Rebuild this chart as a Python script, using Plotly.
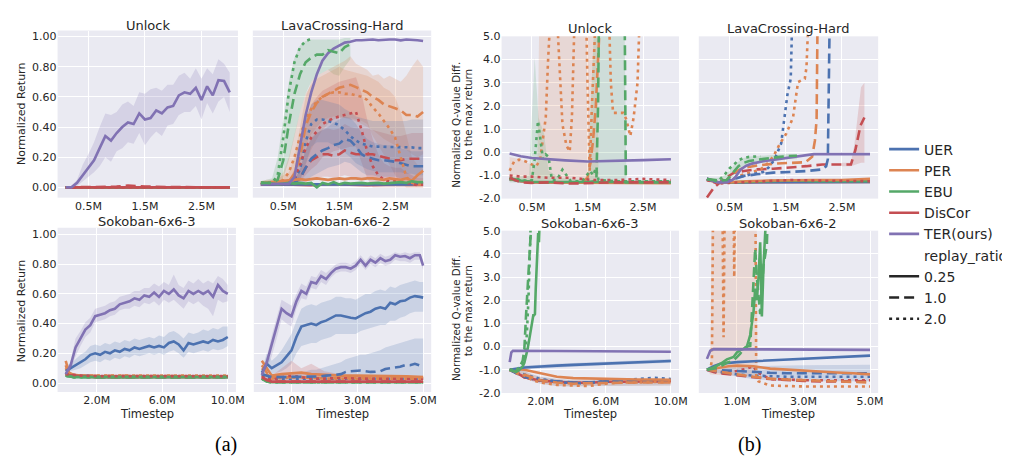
import plotly.graph_objects as go

# ---------------- colours / styles ----------------
COLORS = {"UER": "#4C72B0", "PER": "#DD8452", "EBU": "#55A868", "DisCor": "#C44E52", "TER": "#8172B3"}
RGBA = {"UER": (76, 114, 176), "PER": (221, 132, 82), "EBU": (85, 168, 104), "DisCor": (196, 78, 82), "TER": (129, 114, 179)}
DASH = {"0.25": "solid", "1.0": "10px,5px", "2.0": "3px,4px"}
methods = ["UER", "PER", "EBU", "DisCor", "TER(ours)"]
ratios = ["0.25", "1.0", "2.0"]

# ---------------- x grids (million timesteps) ----------------
x_3m = [0.1, 0.2, 0.3, 0.4, 0.5, 0.6, 0.7, 0.8, 0.9, 1.0, 1.1, 1.2, 1.3, 1.4, 1.5, 1.6, 1.7, 1.8, 1.9, 2.0,
        2.1, 2.2, 2.3, 2.4, 2.5, 2.6, 2.7, 2.8, 2.9, 3.0]
x_3m_coarse = [0.1, 0.5, 1.0, 1.2, 1.5, 2.0, 2.5, 3.0]
x_10m = [0.1, 0.4, 0.7, 1.0, 1.3, 1.6, 1.9, 2.2, 2.5, 2.8, 3.1, 3.4, 3.7, 4.0, 4.3, 4.6, 4.9, 5.2, 5.5, 5.8,
         6.1, 6.4, 6.7, 7.0, 7.3, 7.6, 7.9, 8.2, 8.5, 8.8, 9.1, 9.4, 9.7, 10.0]
x_10m_coarse = [0.1, 0.3, 0.6, 1.0, 2.0, 4.0, 6.0, 8.0, 10.0]
x_5m = [0.1, 0.25, 0.4, 0.55, 0.7, 0.85, 1.0, 1.15, 1.3, 1.45, 1.6, 1.75, 1.9, 2.05, 2.2, 2.35, 2.5, 2.65, 2.8, 2.95,
        3.1, 3.25, 3.4, 3.55, 3.7, 3.85, 4.0, 4.15, 4.3, 4.45, 4.6, 4.75, 4.9, 5.0]
x_5m_coarse = [0.1, 0.25, 0.4, 0.7, 1.0, 1.3, 1.6, 2.0, 2.5, 3.0, 3.5, 4.0, 4.5, 5.0]
xb_3m = [0.1, 0.3, 0.5, 0.8, 1.2, 1.6, 2.0, 2.5, 3.0]
xb_10m = [0.1, 0.5, 1.0, 1.5, 2.0, 3.0, 4.0, 5.0, 6.0, 7.0, 8.0, 9.0, 10.0]
xb_5m = [0.1, 0.3, 0.5, 0.75, 1.0, 1.5, 2.0, 2.5, 3.0, 3.5, 4.0, 4.5, 5.0]

# ---------------- (a) Unlock : normalized return ----------------
ua_ter = [0.0, 0.0, 0.03, 0.08, 0.13, 0.18, 0.26, 0.34, 0.31, 0.36, 0.40, 0.43, 0.42, 0.49, 0.45, 0.46, 0.51, 0.49, 0.53, 0.54,
          0.61, 0.63, 0.62, 0.66, 0.58, 0.67, 0.61, 0.71, 0.705, 0.63]
ua_ter_lo = [0.0, 0.0, 0.01, 0.04, 0.07, 0.10, 0.14, 0.20, 0.17, 0.24, 0.26, 0.30, 0.29, 0.36, 0.28, 0.33, 0.37, 0.34, 0.41, 0.42,
             0.48, 0.50, 0.50, 0.54, 0.45, 0.56, 0.49, 0.57, 0.60, 0.50]
ua_ter_hi = [0.0, 0.01, 0.05, 0.15, 0.22, 0.30, 0.40, 0.49, 0.48, 0.50, 0.55, 0.57, 0.54, 0.63, 0.62, 0.65, 0.66, 0.64, 0.68, 0.68,
             0.74, 0.76, 0.72, 0.79, 0.72, 0.79, 0.75, 0.85, 0.82, 0.76]
ua_flat = [0.0, 0.0, 0.0, 0.0, 0.0, 0.0, 0.0, 0.0]
ua_discor_dash = [0.0, 0.0, 0.005, 0.012, 0.006, 0.002, 0.0, 0.0]

# ---------------- (a) LavaCrossing-Hard ----------------
la_ter = [0.02, 0.02, 0.02, 0.02, 0.02, 0.025, 0.07, 0.27, 0.48, 0.63, 0.75, 0.84, 0.89, 0.92, 0.94, 0.96, 0.965, 0.975, 0.975, 0.98,
          0.98, 0.975, 0.98, 0.98, 0.98, 0.975, 0.98, 0.98, 0.975, 0.97]
la_ebu_dot = [0.03, 0.03, 0.03, 0.08, 0.33, 0.63, 0.83, 0.93, 0.97, 0.985]
la_ebu_dash = [0.03, 0.03, 0.03, 0.05, 0.18, 0.42, 0.62, 0.75, 0.83, 0.86, 0.88, 0.88, 0.91, 0.90, 0.89, 0.93, 0.95]
la_ebu_dash_lo = [0.02, 0.02, 0.02, 0.03, 0.06, 0.18, 0.35, 0.5, 0.62, 0.7, 0.74, 0.76, 0.78, 0.75, 0.74, 0.8, 0.85]
la_ebu_dash_hi = [0.04, 0.05, 0.06, 0.2, 0.45, 0.7, 0.86, 0.94, 0.97, 0.98, 0.98, 0.98, 0.98, 0.98, 0.98, 0.99, 0.99]
la_ebu_solid = [0.03, 0.03, 0.025, 0.02, 0.025, 0.03, 0.025, 0.03, 0.025, 0.03, 0.0, 0.03, 0.02, 0.035, 0.02, 0.03, 0.025, 0.03, 0.03, 0.025,
                0.03, 0.03, 0.025, 0.03, 0.03, 0.035, 0.03, 0.04, 0.035, 0.035]
la_per_dash = [0.03, 0.03, 0.03, 0.03, 0.035, 0.04, 0.09, 0.2, 0.41, 0.5, 0.56, 0.6, 0.62, 0.64, 0.66, 0.67, 0.68, 0.665, 0.65, 0.63,
               0.60, 0.58, 0.55, 0.54, 0.525, 0.51, 0.48, 0.48, 0.47, 0.5]
la_per_dash_lo = [0.02, 0.02, 0.02, 0.02, 0.02, 0.02, 0.03, 0.05, 0.15, 0.25, 0.32, 0.38, 0.42, 0.45, 0.46, 0.46, 0.45, 0.44, 0.42, 0.4,
                  0.38, 0.35, 0.32, 0.3, 0.28, 0.27, 0.25, 0.22, 0.2, 0.22]
la_per_dash_hi = [0.04, 0.05, 0.05, 0.06, 0.08, 0.1, 0.2, 0.4, 0.6, 0.7, 0.74, 0.76, 0.78, 0.8, 0.82, 0.84, 0.87, 0.82, 0.8, 0.78,
                  0.74, 0.75, 0.72, 0.74, 0.72, 0.7, 0.74, 0.8, 0.85, 0.8]
la_per_dot = [0.03, 0.03, 0.03, 0.03, 0.05, 0.1, 0.2, 0.34, 0.45, 0.52, 0.57, 0.6, 0.62, 0.63, 0.63, 0.62, 0.62, 0.61, 0.6, 0.58,
              0.53, 0.49, 0.44, 0.39, 0.33, 0.2, 0.07, 0.03, 0.02, 0.02]
la_per_dot_lo = [0.02, 0.02, 0.02, 0.02, 0.02, 0.03, 0.08, 0.18, 0.28, 0.35, 0.4, 0.44, 0.46, 0.47, 0.47, 0.46, 0.46, 0.45, 0.44, 0.42,
                 0.34, 0.28, 0.22, 0.15, 0.08, 0.03, 0.0, 0.0, 0.0, 0.0]
la_per_dot_hi = [0.04, 0.04, 0.05, 0.06, 0.1, 0.2, 0.35, 0.5, 0.62, 0.68, 0.72, 0.74, 0.76, 0.78, 0.8, 0.78, 0.77, 0.76, 0.75, 0.74,
                 0.72, 0.7, 0.66, 0.64, 0.6, 0.5, 0.35, 0.2, 0.15, 0.12]
la_per_solid = [0.03, 0.03, 0.035, 0.04, 0.045, 0.05, 0.05, 0.055, 0.05, 0.055, 0.06, 0.055, 0.05, 0.055, 0.06, 0.055, 0.06, 0.06, 0.055, 0.06,
                0.06, 0.055, 0.05, 0.06, 0.055, 0.05, 0.06, 0.045, 0.08, 0.11]
la_uer_dot = [0.02, 0.02, 0.02, 0.02, 0.025, 0.03, 0.05, 0.12, 0.3, 0.42, 0.45, 0.45, 0.44, 0.43, 0.41, 0.38, 0.34, 0.31, 0.29, 0.28,
              0.27, 0.27, 0.27, 0.27, 0.27, 0.27, 0.265, 0.265, 0.26, 0.26]
la_uer_dot_lo = [0.01, 0.01, 0.01, 0.01, 0.01, 0.02, 0.02, 0.04, 0.15, 0.27, 0.3, 0.3, 0.3, 0.28, 0.26, 0.23, 0.2, 0.16, 0.14, 0.12,
                 0.11, 0.1, 0.1, 0.1, 0.1, 0.1, 0.09, 0.09, 0.08, 0.08]
la_uer_dot_hi = [0.03, 0.03, 0.03, 0.03, 0.04, 0.05, 0.1, 0.25, 0.45, 0.55, 0.58, 0.58, 0.57, 0.56, 0.55, 0.52, 0.5, 0.47, 0.46, 0.45,
                 0.44, 0.44, 0.44, 0.44, 0.44, 0.44, 0.44, 0.45, 0.45, 0.45]
la_uer_dash = [0.02, 0.02, 0.02, 0.02, 0.02, 0.025, 0.03, 0.06, 0.13, 0.19, 0.22, 0.245, 0.26, 0.28, 0.29, 0.32, 0.31, 0.27, 0.22, 0.2,
               0.19, 0.18, 0.18, 0.175, 0.17, 0.16, 0.15, 0.14, 0.14, 0.14]
la_uer_dash_lo = [0.01, 0.01, 0.01, 0.01, 0.01, 0.015, 0.015, 0.02, 0.04, 0.07, 0.09, 0.11, 0.13, 0.14, 0.15, 0.17, 0.16, 0.13, 0.1, 0.08,
                  0.08, 0.07, 0.07, 0.07, 0.07, 0.06, 0.06, 0.05, 0.05, 0.05]
la_uer_dash_hi = [0.03, 0.03, 0.03, 0.03, 0.03, 0.035, 0.05, 0.12, 0.25, 0.32, 0.36, 0.38, 0.4, 0.43, 0.45, 0.47, 0.46, 0.42, 0.36, 0.32,
                  0.3, 0.29, 0.28, 0.28, 0.27, 0.26, 0.25, 0.24, 0.24, 0.24]
la_uer_solid = [0.02, 0.02, 0.02, 0.025, 0.02, 0.025, 0.02, 0.02, 0.025, 0.02, 0.02, 0.025, 0.02, 0.025, 0.02, 0.02, 0.025, 0.02, 0.02, 0.025,
                0.02, 0.025, 0.02, 0.02, 0.025, 0.02, 0.025, 0.02, 0.03, 0.025]
la_dis_dot = [0.02, 0.02, 0.02, 0.02, 0.025, 0.03, 0.06, 0.15, 0.26, 0.33, 0.37, 0.42, 0.44, 0.46, 0.47, 0.48, 0.49, 0.5, 0.38, 0.24,
              0.14, 0.08, 0.05, 0.04, 0.04, 0.04, 0.03, 0.02, 0.015, 0.02]
la_dis_dot_lo = [0.01, 0.01, 0.01, 0.01, 0.01, 0.015, 0.02, 0.04, 0.08, 0.12, 0.15, 0.2, 0.22, 0.24, 0.25, 0.26, 0.27, 0.27, 0.16, 0.06,
                 0.0, 0.0, 0.0, 0.0, 0.0, 0.0, 0.0, 0.0, 0.0, 0.0]
la_dis_dot_hi = [0.03, 0.03, 0.03, 0.03, 0.04, 0.05, 0.12, 0.3, 0.45, 0.55, 0.6, 0.64, 0.66, 0.68, 0.7, 0.71, 0.72, 0.73, 0.62, 0.45,
                 0.32, 0.22, 0.16, 0.14, 0.13, 0.13, 0.1, 0.08, 0.06, 0.06]
la_dis_dash = [0.02, 0.02, 0.02, 0.02, 0.02, 0.025, 0.03, 0.06, 0.13, 0.18, 0.2, 0.22, 0.22, 0.21, 0.22, 0.245, 0.23, 0.22, 0.22, 0.22,
               0.22, 0.21, 0.2, 0.19, 0.18, 0.18, 0.19, 0.19, 0.19, 0.19]
la_dis_dash_lo = [0.01, 0.01, 0.01, 0.01, 0.01, 0.015, 0.015, 0.02, 0.03, 0.05, 0.06, 0.07, 0.07, 0.06, 0.07, 0.08, 0.07, 0.06, 0.06, 0.06,
                  0.06, 0.06, 0.05, 0.04, 0.03, 0.03, 0.04, 0.04, 0.04, 0.04]
la_dis_dash_hi = [0.03, 0.03, 0.03, 0.03, 0.03, 0.035, 0.05, 0.12, 0.25, 0.33, 0.36, 0.38, 0.39, 0.38, 0.39, 0.42, 0.4, 0.39, 0.39, 0.39,
                  0.38, 0.37, 0.36, 0.35, 0.34, 0.34, 0.35, 0.36, 0.36, 0.36]
la_dis_solid = [0.02, 0.02, 0.015, 0.02, 0.02, 0.015, 0.02, 0.02]

# ---------------- (a) Sokoban-6x6-3 ----------------
s3a_ter = [0.06, 0.12, 0.24, 0.30, 0.36, 0.39, 0.45, 0.46, 0.47, 0.49, 0.50, 0.53, 0.54, 0.55, 0.57, 0.56, 0.59, 0.58, 0.61, 0.58,
           0.62, 0.60, 0.63, 0.59, 0.57, 0.62, 0.60, 0.62, 0.60, 0.62, 0.58, 0.66, 0.62, 0.60]
s3a_ter_lo = [0.05, 0.09, 0.18, 0.25, 0.31, 0.34, 0.41, 0.42, 0.43, 0.45, 0.46, 0.49, 0.5, 0.5, 0.52, 0.51, 0.54, 0.53, 0.55, 0.52,
              0.56, 0.54, 0.56, 0.53, 0.5, 0.55, 0.53, 0.55, 0.52, 0.5, 0.45, 0.56, 0.54, 0.55]
s3a_ter_hi = [0.07, 0.15, 0.3, 0.35, 0.41, 0.44, 0.5, 0.51, 0.52, 0.54, 0.55, 0.58, 0.59, 0.6, 0.62, 0.62, 0.64, 0.64, 0.67, 0.65,
              0.68, 0.66, 0.73, 0.66, 0.64, 0.69, 0.67, 0.7, 0.67, 0.69, 0.67, 0.72, 0.7, 0.66]
s3a_uer = [0.08, 0.1, 0.12, 0.14, 0.16, 0.19, 0.2, 0.19, 0.21, 0.2, 0.22, 0.21, 0.23, 0.22, 0.24, 0.23, 0.24, 0.25, 0.24, 0.25,
           0.24, 0.27, 0.28, 0.26, 0.22, 0.27, 0.26, 0.27, 0.28, 0.27, 0.29, 0.28, 0.29, 0.31]
s3a_uer_lo = [0.06, 0.08, 0.09, 0.1, 0.12, 0.14, 0.15, 0.14, 0.16, 0.15, 0.17, 0.16, 0.18, 0.17, 0.19, 0.18, 0.19, 0.2, 0.19, 0.2,
              0.19, 0.21, 0.22, 0.2, 0.17, 0.21, 0.2, 0.21, 0.22, 0.21, 0.23, 0.22, 0.23, 0.25]
s3a_uer_hi = [0.12, 0.13, 0.16, 0.19, 0.21, 0.25, 0.26, 0.25, 0.27, 0.26, 0.28, 0.27, 0.29, 0.28, 0.3, 0.29, 0.3, 0.31, 0.3, 0.32,
              0.31, 0.34, 0.35, 0.33, 0.3, 0.34, 0.33, 0.34, 0.36, 0.35, 0.37, 0.36, 0.38, 0.38]
s3a_per_solid = [0.15, 0.07, 0.055, 0.05, 0.045, 0.045, 0.045, 0.045, 0.045]
s3a_per_dash = [0.12, 0.06, 0.05, 0.05, 0.045, 0.045, 0.045, 0.045, 0.045]
s3a_per_dot = [0.1, 0.06, 0.05, 0.05, 0.05, 0.05, 0.05, 0.05, 0.05]
s3a_uer_low = [0.07, 0.06, 0.05, 0.05, 0.045, 0.045, 0.045, 0.045, 0.045]
s3a_ebu = [0.05, 0.045, 0.04, 0.04, 0.04, 0.04, 0.04, 0.04, 0.04]
s3a_dis_dot = [0.06, 0.06, 0.055, 0.05, 0.047, 0.047, 0.047, 0.047, 0.047]
s3a_dis_other = [0.06, 0.05, 0.05, 0.045, 0.04, 0.04, 0.04, 0.04, 0.04]

# ---------------- (a) Sokoban-6x6-2 ----------------
s2a_ter = [0.055, 0.14, 0.26, 0.38, 0.50, 0.47, 0.45, 0.55, 0.62, 0.60, 0.68, 0.67, 0.72, 0.70, 0.74, 0.77, 0.78, 0.78, 0.77, 0.79,
           0.83, 0.79, 0.83, 0.81, 0.84, 0.82, 0.83, 0.86, 0.85, 0.855, 0.84, 0.86, 0.86, 0.79]
s2a_ter_lo = [0.04, 0.1, 0.18, 0.3, 0.43, 0.4, 0.38, 0.5, 0.57, 0.56, 0.64, 0.63, 0.68, 0.66, 0.71, 0.74, 0.75, 0.75, 0.74, 0.76,
              0.8, 0.76, 0.8, 0.78, 0.81, 0.79, 0.8, 0.83, 0.82, 0.82, 0.81, 0.83, 0.83, 0.76]
s2a_ter_hi = [0.07, 0.18, 0.32, 0.45, 0.56, 0.54, 0.52, 0.6, 0.67, 0.65, 0.72, 0.71, 0.76, 0.74, 0.77, 0.8, 0.81, 0.81, 0.8, 0.82,
              0.86, 0.82, 0.86, 0.84, 0.87, 0.85, 0.86, 0.88, 0.87, 0.88, 0.87, 0.88, 0.88, 0.82]
s2a_uer = [0.07, 0.13, 0.1, 0.12, 0.14, 0.18, 0.22, 0.31, 0.38, 0.39, 0.40, 0.39, 0.41, 0.42, 0.44, 0.455, 0.455, 0.445, 0.44, 0.435,
           0.455, 0.47, 0.48, 0.5, 0.51, 0.5, 0.54, 0.53, 0.55, 0.555, 0.575, 0.585, 0.58, 0.575]
s2a_uer_lo = [0.05, 0.08, 0.06, 0.07, 0.08, 0.1, 0.13, 0.2, 0.25, 0.26, 0.27, 0.27, 0.29, 0.3, 0.31, 0.33, 0.33, 0.33, 0.33, 0.33,
              0.35, 0.36, 0.37, 0.38, 0.39, 0.39, 0.42, 0.42, 0.44, 0.45, 0.47, 0.48, 0.48, 0.48]
s2a_uer_hi = [0.09, 0.2, 0.15, 0.18, 0.22, 0.28, 0.33, 0.42, 0.5, 0.52, 0.53, 0.52, 0.54, 0.55, 0.56, 0.58, 0.58, 0.57, 0.57, 0.56,
              0.58, 0.6, 0.6, 0.62, 0.63, 0.62, 0.65, 0.64, 0.66, 0.67, 0.68, 0.69, 0.68, 0.68]
s2a_uer_dash = [0.06, 0.05, 0.04, 0.04, 0.04, 0.04, 0.04, 0.04, 0.04, 0.04, 0.045, 0.04, 0.045, 0.05, 0.05, 0.055, 0.06, 0.075, 0.08, 0.085,
                0.085, 0.08, 0.075, 0.076, 0.08, 0.095, 0.1, 0.105, 0.11, 0.12, 0.12, 0.13, 0.12, 0.11]
s2a_uer_dash_lo = [0.04, 0.03, 0.02, 0.02, 0.02, 0.02, 0.02, 0.02, 0.02, 0.02, 0.02, 0.02, 0.02, 0.02, 0.02, 0.02, 0.02, 0.02, 0.02, 0.02,
                   0.02, 0.02, 0.02, 0.02, 0.02, 0.02, 0.02, 0.02, 0.02, 0.02, 0.02, 0.02, 0.02, 0.02]
s2a_uer_dash_hi = [0.08, 0.07, 0.06, 0.06, 0.06, 0.06, 0.06, 0.06, 0.07, 0.08, 0.09, 0.09, 0.1, 0.11, 0.12, 0.13, 0.14, 0.16, 0.17, 0.18,
                   0.19, 0.19, 0.2, 0.21, 0.22, 0.24, 0.25, 0.26, 0.27, 0.28, 0.29, 0.3, 0.3, 0.3]
s2a_per_solid = [0.15, 0.1, 0.05, 0.06, 0.065, 0.07, 0.06, 0.055, 0.05, 0.05, 0.05, 0.045, 0.045, 0.04]
s2a_per_dash = [0.12, 0.07, 0.04, 0.04, 0.045, 0.04, 0.035, 0.035, 0.03, 0.03, 0.035, 0.03, 0.03, 0.03]
s2a_per_dot = [0.1, 0.06, 0.03, 0.035, 0.04, 0.04, 0.035, 0.03, 0.03, 0.03, 0.03, 0.03, 0.03, 0.03]
s2a_uer_dot = [0.06, 0.04, 0.03, 0.03, 0.035, 0.035, 0.03, 0.03, 0.03, 0.03, 0.03, 0.03, 0.03, 0.03]
s2a_dis_dot = [0.05, 0.03, 0.02, 0.04, 0.05, 0.04, 0.03, 0.03, 0.035, 0.03, 0.03, 0.03, 0.03, 0.03]
s2a_dis_dot_lo = [0.02, 0.01, 0.0, 0.01, 0.01, 0.01, 0.01, 0.01, 0.01, 0.01, 0.01, 0.01, 0.01, 0.01]
s2a_dis_dot_hi = [0.08, 0.06, 0.05, 0.1, 0.15, 0.1, 0.13, 0.08, 0.06, 0.05, 0.05, 0.05, 0.05, 0.05]
s2a_dis_other = [0.04, 0.02, 0.01, 0.01, 0.01, 0.01, 0.01, 0.01, 0.01, 0.01, 0.01, 0.01, 0.01, 0.01]
s2a_ebu = [0.03, 0.01, 0.005, 0.005, 0.005, 0.005, 0.005, 0.005, 0.005, 0.005, 0.005, 0.005, 0.005, 0.005]

# ---------------- (b) Unlock : normalized Q-value diff ----------------
ub_ter_x = [0.1, 0.3, 0.5, 0.8, 1.1, 1.5, 2.0, 2.5, 3.0]
ub_ter = [-0.05, -0.17, -0.25, -0.31, -0.35, -0.4, -0.38, -0.34, -0.3]
ub_uer_solid = [-1.15, -1.25, -1.3, -1.3, -1.3, -1.3, -1.3, -1.3, -1.3]
ub_per_solid = [-1.15, -1.25, -1.3, -1.3, -1.3, -1.3, -1.32, -1.32, -1.33]
ub_ebu_solid = [-1.12, -1.22, -1.27, -1.28, -1.28, -1.28, -1.28, -1.28, -1.28]
ub_dis_dash = [-1.1, -1.3, -1.32, -1.3, -1.35, -1.32, -1.3, -1.3, -1.3]
ub_dis_dot = [-1.0, -1.05, -1.05, -1.1, -1.1, -1.2, -1.2, -1.15, -1.2]
ub_uer_low = [-1.15, -1.25, -1.3, -1.3, -1.28, -1.3, -1.3, -1.3, -1.3]
ub_per_dash_x = [0.1, 0.5, 1.0, 1.4, 1.5, 1.55, 1.6, 1.65, 1.72, 1.8, 3.0]
ub_per_dash = [-1.15, -1.3, -1.3, -1.3, -1.1, -0.5, 0.5, 2.0, 5.5, 9.0, 9.0]
ub_per_dot_x = [0.1, 0.18, 0.27, 0.39, 0.5, 0.58, 0.65, 0.7, 0.75, 0.79, 0.82, 0.86, 0.9, 0.95, 1.0, 1.05, 1.12, 1.18, 1.22, 1.27,
                1.32, 1.45, 1.5, 1.54, 1.58, 1.62, 1.7, 1.85, 1.92, 1.96, 2.05, 2.15, 2.2, 2.27, 2.33, 2.4, 2.48, 2.6, 3.0]
ub_per_dot = [-0.8, -0.4, -0.32, -0.4, -0.53, -0.6, -0.3, 0.5, 1.5, 3.9, 6.0, 9.0, 9.0, 6.0, 3.5, 1.2, 0.3, 0.03, 1.5, 6.0,
              9.0, 9.0, 3.0, -0.8, 2.0, 9.0, 9.0, 9.0, 3.0, 1.7, 1.7, 1.7, 1.4, 0.7, 1.5, 3.0, 9.0, 9.0, 9.0]
ub_per_band_x = [0.1, 0.3, 0.5, 0.6, 0.65, 1.65, 1.7]
ub_per_band_lo = [-1.25, -1.3, -1.3, -1.3, -1.3, -1.3, -1.3]
ub_per_band_hi = [-0.2, -0.3, -0.55, -0.5, 9.0, 9.0, -1.2]
ub_ebu_dot_x = [0.1, 0.3, 0.45, 0.5, 0.55, 0.61, 0.66, 0.7, 0.75, 0.8, 0.86, 0.95, 1.05, 1.1, 1.2, 1.4, 1.55, 1.6, 1.65, 1.7, 2.0, 2.5, 3.0]
ub_ebu_dot = [-1.1, -1.2, -1.25, -1.2, -0.3, 1.35, 0.3, -0.3, -0.1, -0.2, -1.2, -1.2, -0.75, -0.9, -1.25, -1.25, -0.8, -1.0, -0.7, -1.2, -1.25, -1.25, -1.25]
ub_ebu_dash_x = [0.1, 0.5, 1.0, 1.5, 1.63, 1.66, 1.69, 1.72, 2.16, 2.19, 2.5, 3.0]
ub_ebu_dash = [-1.15, -1.3, -1.3, -1.3, -1.25, -1.2, 2.0, 9.0, 9.0, -1.3, -1.3, -1.3]
ub_ebu_band_x = [0.1, 0.45, 0.55, 0.62, 0.72, 0.8, 1.0, 1.5, 1.62, 1.7, 2.15, 2.2, 3.0]
ub_ebu_band_lo = [-1.3, -1.3, -1.3, -1.3, -1.3, -1.3, -1.3, -1.3, -1.3, -1.3, -1.3, -1.3, -1.3]
ub_ebu_band_hi = [-1.1, -1.0, 4.1, 1.5, 0.8, -0.8, -1.1, -1.2, 5.5, 9.0, 9.0, -1.2, -1.2]

# ---------------- (b) LavaCrossing-Hard ----------------
lb_ter_x = [0.1, 0.3, 0.45, 0.55, 0.6, 0.7, 0.8, 0.9, 1.1, 1.4, 1.75, 2.0, 2.5, 3.0]
lb_ter = [-1.13, -1.3, -1.3, -1.2, -1.09, -0.74, -0.58, -0.49, -0.39, -0.29, -0.15, -0.08, -0.08, -0.08]
lb_ebu_dot_x = [0.1, 0.3, 0.42, 0.5, 0.58, 0.66, 0.75, 0.85, 1.0, 1.05]
lb_ebu_dot = [-1.15, -1.25, -0.95, -0.7, -0.53, -0.35, -0.25, -0.2, -0.18, -0.18]
lb_ebu_dash_x = [0.1, 0.3, 0.45, 0.58, 0.66, 0.75, 0.85, 1.0, 1.2, 1.4, 1.55, 1.7]
lb_ebu_dash = [-1.15, -1.22, -1.2, -0.8, -0.6, -0.46, -0.38, -0.32, -0.25, -0.2, -0.16, -0.15]
lb_ebu_dash_lo = [-1.2, -1.3, -1.3, -1.0, -0.8, -0.65, -0.55, -0.48, -0.4, -0.35, -0.3, -0.3]
lb_ebu_dash_hi = [-1.1, -1.1, -0.95, -0.55, -0.4, -0.25, -0.18, -0.15, -0.12, -0.1, -0.08, -0.08]
lb_per_dash_x = [0.1, 0.3, 0.45, 0.58, 0.75, 1.0, 1.3, 1.6, 1.85, 1.97, 2.02, 2.05, 2.08, 2.2, 3.0]
lb_per_dash = [-1.15, -1.25, -1.2, -0.88, -0.67, -0.57, -0.49, -0.46, -0.43, -0.2, 0.5, 1.4, 9.0, 9.0, 9.0]
lb_per_dot_x = [0.1, 0.3, 0.5, 0.7, 0.9, 1.05, 1.16, 1.28, 1.4, 1.51, 1.63, 1.72, 1.84, 1.87, 1.9, 1.95, 3.0]
lb_per_dot = [-1.15, -1.28, -1.2, -1.0, -0.85, -0.75, -0.53, -0.18, 0.38, 0.8, 1.49, 3.03, 3.17, 3.66, 5.5, 9.0, 9.0]
lb_uer_dot_x = [0.1, 0.3, 0.5, 0.7, 0.9, 1.1, 1.2, 1.3, 1.42, 1.47, 1.53, 1.59, 1.62, 1.65, 3.0]
lb_uer_dot = [-1.15, -1.3, -1.2, -1.05, -0.95, -0.85, -0.65, -0.32, 0.38, 1.35, 2.47, 3.17, 5.5, 9.0, 9.0]
lb_uer_dash_x = [0.1, 0.3, 0.58, 0.76, 0.99, 1.28, 1.57, 1.87, 2.15, 2.22, 2.25, 2.27, 2.3, 3.0]
lb_uer_dash = [-1.15, -1.3, -1.16, -1.02, -0.95, -0.88, -0.85, -0.81, -0.74, -0.6, -0.3, 4.5, 9.0, 9.0]
lb_dis_dash_x = [0.1, 0.23, 0.4, 0.58, 0.76, 0.99, 1.28, 1.57, 1.87, 2.15, 2.45, 2.66, 2.74, 2.83, 2.9]
lb_dis_dash = [-1.95, -1.51, -1.16, -0.88, -0.81, -0.74, -0.71, -0.67, -0.6, -0.53, -0.53, -0.53, 0.1, 1.15, 1.5]
lb_dis_band_x = [2.5, 2.66, 2.72, 2.78, 2.84, 2.9]
lb_dis_band_lo = [-0.6, -0.6, -0.55, -0.5, -0.45, -0.45]
lb_dis_band_hi = [-0.45, -0.45, 0.3, 1.5, 2.8, 3.0]
lb_uer_solid = [-1.15, -1.3, -1.3, -1.3, -1.28, -1.28, -1.28, -1.28, -1.28]
lb_per_solid = [-1.15, -1.3, -1.3, -1.25, -1.22, -1.2, -1.2, -1.2, -1.15]
lb_ebu_solid = [-1.15, -1.3, -1.3, -1.28, -1.25, -1.22, -1.25, -1.25, -1.25]
lb_dis_solid = [-1.2, -1.3, -1.3, -1.3, -1.28, -1.28, -1.28, -1.28, -1.28]
lb_dis_dot = [-1.2, -1.35, -1.32, -1.28, -1.25, -1.2, -1.22, -1.25, -1.25]

# ---------------- (b) Sokoban-6x6-3 ----------------
s3b_ter_x = [0.1, 0.2, 0.3, 0.5, 1.0, 2.0, 4.0, 6.0, 8.0, 10.0]
s3b_ter = [-0.67, -0.25, -0.18, -0.18, -0.18, -0.19, -0.2, -0.2, -0.21, -0.22]
s3b_uer_solid = [-1.0, -0.95, -0.9, -0.88, -0.85, -0.82, -0.79, -0.76, -0.73, -0.7, -0.67, -0.64, -0.62]
s3b_uer_solid_lo = [-1.05, -1.02, -0.98, -0.96, -0.93, -0.9, -0.87, -0.84, -0.81, -0.78, -0.75, -0.72, -0.7]
s3b_uer_solid_hi = [-0.95, -0.88, -0.82, -0.8, -0.77, -0.74, -0.71, -0.68, -0.65, -0.62, -0.59, -0.56, -0.54]
s3b_per_solid = [-1.0, -0.98, -1.0, -1.08, -1.16, -1.3, -1.36, -1.38, -1.4, -1.41, -1.42, -1.42, -1.43]
s3b_per_dash = [-1.0, -1.1, -1.2, -1.35, -1.45, -1.55, -1.6, -1.58, -1.56, -1.55, -1.55, -1.55, -1.55]
s3b_per_dash_lo = [-1.05, -1.2, -1.35, -1.5, -1.6, -1.7, -1.72, -1.7, -1.7, -1.68, -1.68, -1.68, -1.68]
s3b_per_dash_hi = [-0.95, -1.0, -1.05, -1.2, -1.3, -1.4, -1.45, -1.45, -1.42, -1.42, -1.42, -1.42, -1.42]
s3b_per_dot = [-1.0, -1.15, -1.25, -1.45, -1.55, -1.65, -1.68, -1.7, -1.6, -1.55, -1.55, -1.52, -1.55]
s3b_uer_dash = [-1.0, -1.15, -1.3, -1.4, -1.45, -1.5, -1.55, -1.55, -1.5, -1.5, -1.5, -1.48, -1.45]
s3b_uer_dot = [-1.0, -1.1, -1.2, -1.3, -1.4, -1.5, -1.6, -1.55, -1.5, -1.45, -1.42, -1.35, -1.4]
s3b_dis_low = [-1.0, -1.12, -1.32, -1.4, -1.47, -1.52, -1.56, -1.56, -1.52, -1.52, -1.52, -1.5, -1.48]
s3b_ebu_solid_x = [0.1, 0.3, 0.5, 0.7, 0.9, 1.0, 1.1, 1.2, 1.3, 1.4, 1.5, 1.55, 1.6, 1.65, 1.7, 1.75, 1.8, 1.85, 1.9, 1.95, 2.0, 2.1]
s3b_ebu_solid = [-1.0, -1.05, -1.09, -1.0, -0.85, -0.7, -0.45, -0.1, 0.3, 0.8, 1.3, 1.35, 1.35, 1.4, 2.5, 3.5, 4.65, 4.9, 4.5, 5.5, 9.0, 9.0]
s3b_ebu_dash_x = [0.1, 0.3, 0.5, 0.7, 0.9, 1.0, 1.1, 1.2, 1.3, 1.4, 1.5]
s3b_ebu_dash = [-1.0, -1.05, -1.05, -0.9, -0.6, -0.11, 1.29, 2.69, 4.09, 4.95, 9.0]
s3b_ebu_dot_x = [0.1, 0.3, 0.5, 0.7, 0.9, 1.05, 1.15, 1.25, 1.35, 1.45, 1.55]
s3b_ebu_dot = [-1.0, -1.0, -1.0, -0.9, -0.7, -0.3, 0.5, 2.0, 3.5, 5.5, 9.0]

# ---------------- (b) Sokoban-6x6-2 ----------------
s2b_ter_x = [0.1, 0.2, 0.3, 0.5, 1.0, 2.0, 3.0, 4.0, 5.0]
s2b_ter = [-0.53, -0.18, -0.11, -0.11, -0.12, -0.12, -0.13, -0.13, -0.14]
s2b_uer_solid = [-1.0, -0.85, -0.74, -0.7, -0.67, -0.63, -0.6, -0.57, -0.53, -0.5, -0.46, -0.42, -0.39]
s2b_per_solid = [-1.0, -0.95, -0.9, -0.85, -0.82, -0.85, -0.95, -1.0, -1.05, -1.1, -1.12, -1.15, -1.2]
s2b_per_dash = [-1.0, -1.05, -1.1, -1.15, -1.2, -1.3, -1.38, -1.42, -1.45, -1.48, -1.5, -1.52, -1.55]
s2b_uer_dash = [-1.0, -1.0, -1.02, -1.03, -1.05, -1.1, -1.13, -1.15, -1.15, -1.13, -1.12, -1.12, -1.15]
s2b_uer_dash_lo = [-1.05, -1.1, -1.15, -1.2, -1.3, -1.4, -1.45, -1.5, -1.5, -1.5, -1.5, -1.5, -1.5]
s2b_uer_dash_hi = [-0.95, -0.95, -0.95, -0.9, -0.9, -0.85, -0.85, -0.82, -0.8, -0.8, -0.78, -0.78, -0.78]
s2b_uer_dot = [-1.0, -1.05, -1.1, -1.15, -1.2, -1.25, -1.28, -1.3, -1.3, -1.3, -1.3, -1.3, -1.3]
s2b_dis_dot_x = [0.1, 0.3, 0.5, 0.75, 1.0, 1.3, 1.5, 1.6, 2.0, 3.0, 4.0, 5.0]
s2b_dis_dot = [-1.0, -1.05, -1.1, -1.1, -1.05, -0.95, -0.85, -1.1, -1.4, -1.45, -1.45, -1.45]
s2b_dis_dash = [-1.0, -1.1, -1.15, -1.2, -1.25, -1.32, -1.4, -1.45, -1.48, -1.5, -1.5, -1.5, -1.5]
s2b_ebu_solid_x = [0.1, 0.3, 0.5, 0.7, 0.9, 1.0, 1.1, 1.2, 1.3, 1.4, 1.5, 1.55, 1.6, 1.65, 1.7, 1.75, 1.8, 1.85, 1.9, 2.0, 2.2]
s2b_ebu_solid = [-1.0, -0.9, -0.75, -0.55, -0.45, -0.25, -0.15, -0.1, 0.0, 0.5, 1.5, 2.5, 2.0, 3.0, 4.5, 1.3, 3.5, 5.5, 9.0, 9.0, 9.0]
s2b_ebu_dash_x = [0.1, 0.3, 0.5, 0.7, 0.9, 1.1, 1.2, 1.3, 1.4, 1.45, 1.5, 1.55, 1.6, 1.7, 1.8, 1.9, 2.0]
s2b_ebu_dash = [-1.0, -0.95, -0.85, -0.7, -0.6, -0.3, -0.1, 0.0, 0.03, 1.29, 2.69, 4.23, 3.0, 1.4, 3.5, 4.4, 9.0]
s2b_per_dot_x = [0.1, 0.2, 0.25, 0.3, 0.55, 0.6, 0.65, 0.88, 0.92, 0.96, 1.55, 1.58, 1.65, 2.0, 3.0, 4.0, 5.0]
s2b_per_dot = [-1.0, -0.95, -0.6, 9.0, 9.0, 0.4, 9.0, 9.0, 3.0, 9.0, 9.0, -1.3, -1.5, -1.68, -1.72, -1.72, -1.72]
s2b_per_band_x = [0.15, 0.2, 0.25, 1.58, 1.62]
s2b_per_band_lo = [-1.1, -1.2, -1.2, -1.3, -1.3]
s2b_per_band_hi = [-0.9, -0.8, 9.0, 9.0, -1.2]

# ---------------- tick labels ----------------
ya_vals = [0.0, 0.2, 0.4, 0.6, 0.8, 1.0]
ya_text = ["0.00", "0.20", "0.40", "0.60", "0.80", "1.00"]
yb_vals = [-2, -1, 0, 1, 2, 3, 4, 5]
yb_text = ["-2.0", "-1.0", "0.0", "1.0", "2.0", "3.0", "4.0", "5.0"]
x3_vals = [0.5, 1.5, 2.5]
x3_text = ["0.5M", "1.5M", "2.5M"]
x10_vals = [2.0, 6.0, 10.0]
x10_text = ["2.0M", "6.0M", "10.0M"]
x5_vals = [1.0, 3.0, 5.0]
x5_text = ["1.0M", "3.0M", "5.0M"]
titles = ["Unlock", "LavaCrossing-Hard", "Sokoban-6x6-3", "Sokoban-6x6-2",
          "Unlock", "LavaCrossing-Hard", "Sokoban-6x6-3", "Sokoban-6x6-2"]

# ---------------- figure ----------------
W, H = 1010, 459
fig = go.Figure()


def ax_names(k):
    return ("x" if k == 1 else f"x{k}"), ("y" if k == 1 else f"y{k}")


def line(k, x, y, m, r, w=2.6):
    xa, ya = ax_names(k)
    fig.add_trace(go.Scatter(x=x, y=y, mode="lines", xaxis=xa, yaxis=ya, showlegend=False, hoverinfo="skip",
                             line=dict(color=COLORS[m], width=w, dash=DASH[r])))


def band(k, x, lo, hi, m, a=0.2):
    xa, ya = ax_names(k)
    c = RGBA[m]
    fig.add_trace(go.Scatter(x=list(x) + list(x)[::-1], y=list(hi) + list(lo)[::-1], mode="lines", fill="toself",
                             fillcolor=f"rgba({c[0]},{c[1]},{c[2]},{a})", line=dict(width=0),
                             xaxis=xa, yaxis=ya, showlegend=False, hoverinfo="skip"))


# (a) Unlock
band(1, x_3m, ua_ter_lo, ua_ter_hi, "TER")
for m in ["UER", "PER", "EBU"]:
    for r in ratios:
        line(1, x_3m_coarse, ua_flat, m, r)
line(1, x_3m_coarse, ua_flat, "DisCor", "0.25")
line(1, x_3m_coarse, ua_flat, "DisCor", "2.0")
line(1, x_3m_coarse, ua_discor_dash, "DisCor", "1.0")
line(1, x_3m, ua_ter, "TER", "0.25")

# (a) LavaCrossing-Hard
band(2, x_3m[:17], la_ebu_dash_lo, la_ebu_dash_hi, "EBU")
band(2, x_3m, la_per_dash_lo, la_per_dash_hi, "PER")
band(2, x_3m, la_per_dot_lo, la_per_dot_hi, "PER")
band(2, x_3m, la_dis_dot_lo, la_dis_dot_hi, "DisCor")
band(2, x_3m, la_dis_dash_lo, la_dis_dash_hi, "DisCor")
band(2, x_3m, la_uer_dot_lo, la_uer_dot_hi, "UER")
band(2, x_3m, la_uer_dash_lo, la_uer_dash_hi, "UER")
line(2, x_3m_coarse, la_dis_solid, "DisCor", "0.25")
line(2, x_3m, la_uer_solid, "UER", "0.25")
line(2, x_3m, la_dis_dash, "DisCor", "1.0")
line(2, x_3m, la_uer_dash, "UER", "1.0")
line(2, x_3m, la_uer_dot, "UER", "2.0")
line(2, x_3m, la_dis_dot, "DisCor", "2.0")
line(2, x_3m, la_per_dot, "PER", "2.0")
line(2, x_3m, la_per_dash, "PER", "1.0")
line(2, x_3m, la_per_solid, "PER", "0.25")
line(2, x_3m, la_ebu_solid, "EBU", "0.25")
line(2, x_3m, la_ter, "TER", "0.25")
line(2, x_3m[:17], la_ebu_dash, "EBU", "1.0")
line(2, x_3m[:10], la_ebu_dot, "EBU", "2.0")

# (a) Sokoban-6x6-3
band(3, x_10m, s3a_ter_lo, s3a_ter_hi, "TER")
band(3, x_10m, s3a_uer_lo, s3a_uer_hi, "UER")
line(3, x_10m_coarse, s3a_uer_low, "UER", "1.0")
line(3, x_10m_coarse, s3a_uer_low, "UER", "2.0")
line(3, x_10m_coarse, s3a_per_dash, "PER", "1.0")
line(3, x_10m_coarse, s3a_per_dot, "PER", "2.0")
line(3, x_10m_coarse, s3a_per_solid, "PER", "0.25")
line(3, x_10m_coarse, s3a_dis_other, "DisCor", "0.25")
line(3, x_10m_coarse, s3a_dis_other, "DisCor", "1.0")
for r in ratios:
    line(3, x_10m_coarse, s3a_ebu, "EBU", r)
line(3, x_10m_coarse, s3a_dis_dot, "DisCor", "2.0")
line(3, x_10m, s3a_uer, "UER", "0.25")
line(3, x_10m, s3a_ter, "TER", "0.25")

# (a) Sokoban-6x6-2
band(4, x_5m, s2a_ter_lo, s2a_ter_hi, "TER")
band(4, x_5m, s2a_uer_lo, s2a_uer_hi, "UER")
band(4, x_5m, s2a_uer_dash_lo, s2a_uer_dash_hi, "UER")
band(4, x_5m_coarse, s2a_dis_dot_lo, s2a_dis_dot_hi, "DisCor")
for r in ratios:
    line(4, x_5m_coarse, s2a_ebu, "EBU", r)
line(4, x_5m_coarse, s2a_dis_other, "DisCor", "0.25")
line(4, x_5m_coarse, s2a_dis_other, "DisCor", "1.0")
line(4, x_5m_coarse, s2a_uer_dot, "UER", "2.0")
line(4, x_5m_coarse, s2a_per_dot, "PER", "2.0")
line(4, x_5m_coarse, s2a_per_dash, "PER", "1.0")
line(4, x_5m_coarse, s2a_dis_dot, "DisCor", "2.0")
line(4, x_5m_coarse, s2a_per_solid, "PER", "0.25")
line(4, x_5m, s2a_uer_dash, "UER", "1.0")
line(4, x_5m, s2a_uer, "UER", "0.25")
line(4, x_5m, s2a_ter, "TER", "0.25")

# (b) Unlock
band(5, ub_per_band_x, ub_per_band_lo, ub_per_band_hi, "PER", 0.18)
band(5, ub_ebu_band_x, ub_ebu_band_lo, ub_ebu_band_hi, "EBU", 0.18)
line(5, xb_3m, ub_uer_low, "UER", "1.0")
line(5, xb_3m, ub_uer_low, "UER", "2.0")
line(5, xb_3m, ub_uer_solid, "UER", "0.25")
line(5, xb_3m, ub_per_solid, "PER", "0.25")
line(5, ub_per_dash_x, ub_per_dash, "PER", "1.0")
line(5, ub_per_dot_x, ub_per_dot, "PER", "2.0")
line(5, xb_3m, ub_ebu_solid, "EBU", "0.25")
line(5, ub_ebu_dash_x, ub_ebu_dash, "EBU", "1.0")
line(5, ub_ebu_dot_x, ub_ebu_dot, "EBU", "2.0")
line(5, xb_3m, ub_dis_dash, "DisCor", "1.0")
line(5, xb_3m, ub_dis_dot, "DisCor", "2.0")
line(5, ub_ter_x, ub_ter, "TER", "0.25")

# (b) LavaCrossing-Hard
band(6, lb_ebu_dash_x, lb_ebu_dash_lo, lb_ebu_dash_hi, "EBU")
band(6, lb_dis_band_x, lb_dis_band_lo, lb_dis_band_hi, "DisCor")
line(6, xb_3m, lb_dis_solid, "DisCor", "0.25")
line(6, xb_3m, lb_uer_solid, "UER", "0.25")
line(6, xb_3m, lb_ebu_solid, "EBU", "0.25")
line(6, xb_3m, lb_per_solid, "PER", "0.25")
line(6, xb_3m, lb_dis_dot, "DisCor", "2.0")
line(6, lb_dis_dash_x, lb_dis_dash, "DisCor", "1.0")
line(6, lb_uer_dash_x, lb_uer_dash, "UER", "1.0")
line(6, lb_per_dash_x, lb_per_dash, "PER", "1.0")
line(6, lb_per_dot_x, lb_per_dot, "PER", "2.0")
line(6, lb_uer_dot_x, lb_uer_dot, "UER", "2.0")
line(6, lb_ter_x, lb_ter, "TER", "0.25")
line(6, lb_ebu_dash_x, lb_ebu_dash, "EBU", "1.0")
line(6, lb_ebu_dot_x, lb_ebu_dot, "EBU", "2.0")

# (b) Sokoban-6x6-3
band(7, xb_10m, s3b_per_dash_lo, s3b_per_dash_hi, "PER")
band(7, xb_10m, s3b_per_dash_lo, s3b_per_dash_hi, "UER", 0.15)
band(7, xb_10m, s3b_uer_solid_lo, s3b_uer_solid_hi, "UER")
line(7, xb_10m, s3b_dis_low, "DisCor", "0.25")
line(7, xb_10m, s3b_dis_low, "DisCor", "1.0")
line(7, xb_10m, s3b_dis_low, "DisCor", "2.0")
line(7, xb_10m, s3b_uer_dash, "UER", "1.0")
line(7, xb_10m, s3b_uer_dot, "UER", "2.0")
line(7, xb_10m, s3b_per_dot, "PER", "2.0")
line(7, xb_10m, s3b_per_dash, "PER", "1.0")
line(7, xb_10m, s3b_per_solid, "PER", "0.25")
line(7, xb_10m, s3b_uer_solid, "UER", "0.25")
line(7, s3b_ebu_dot_x, s3b_ebu_dot, "EBU", "2.0")
line(7, s3b_ebu_dash_x, s3b_ebu_dash, "EBU", "1.0")
line(7, s3b_ebu_solid_x, s3b_ebu_solid, "EBU", "0.25")
line(7, s3b_ter_x, s3b_ter, "TER", "0.25")

# (b) Sokoban-6x6-2
band(8, s2b_per_band_x, s2b_per_band_lo, s2b_per_band_hi, "PER", 0.18)
band(8, xb_5m, s2b_uer_dash_lo, s2b_uer_dash_hi, "UER", 0.2)
line(8, xb_5m, s2b_dis_dash, "DisCor", "1.0")
line(8, s2b_dis_dot_x, s2b_dis_dot, "DisCor", "2.0")
line(8, xb_5m, s2b_uer_dot, "UER", "2.0")
line(8, xb_5m, s2b_uer_dash, "UER", "1.0")
line(8, xb_5m, s2b_per_dash, "PER", "1.0")
line(8, s2b_per_dot_x, s2b_per_dot, "PER", "2.0")
line(8, xb_5m, s2b_per_solid, "PER", "0.25")
line(8, xb_5m, s2b_uer_solid, "UER", "0.25")
line(8, s2b_ebu_dash_x, s2b_ebu_dash, "EBU", "1.0")
line(8, s2b_ebu_solid_x, s2b_ebu_solid, "EBU", "0.25")
line(8, s2b_ter_x, s2b_ter, "TER", "0.25")

# ---------------- legend entries ----------------
legend_colors = [COLORS["UER"], COLORS["PER"], COLORS["EBU"], COLORS["DisCor"], COLORS["TER"]]
for name, col in zip(methods, legend_colors):
    fig.add_trace(go.Scatter(x=[None], y=[None], mode="lines", name=name, line=dict(color=col, width=2.6)))
fig.add_trace(go.Scatter(x=[None], y=[None], mode="lines", name="replay_ratio",
                         line=dict(color="rgba(0,0,0,0)", width=2.6)))
for r in ratios:
    fig.add_trace(go.Scatter(x=[None], y=[None], mode="lines", name=r,
                             line=dict(color="#262626", width=2.6, dash=DASH[r])))

# ---------------- axes layout (pixel boxes) ----------------
boxes = [(50, 232, 17, 189), (247, 427, 17, 189), (50, 230, 220, 389), (248, 427, 220, 389),
         (498, 677, 23, 190), (697, 878, 23, 190), (498, 677, 223, 390), (697, 878, 223, 390)]
xr = [[-0.045, 3.145], [-0.045, 3.145], [-0.4, 10.5], [-0.145, 5.245],
      [-0.045, 3.145], [-0.045, 3.145], [-0.4, 10.5], [-0.145, 5.245]]
yr = [[-0.068, 1.04], [-0.068, 1.04], [-0.06, 1.045], [-0.06, 1.045], [-2, 5], [-2, 5], [-2, 5], [-2, 5]]
xt = [(x3_vals, x3_text), (x3_vals, x3_text), (x10_vals, x10_text), (x5_vals, x5_text),
      (x3_vals, x3_text), (x3_vals, x3_text), (x10_vals, x10_text), (x5_vals, x5_text)]
yt = [(ya_vals, ya_text)] * 4 + [(yb_vals, yb_text)] * 4
show_y = [True, False, True, False, True, False, True, False]

TXT = "#262626"
layout = dict(width=W, height=H, margin=dict(l=0, r=0, t=0, b=0), paper_bgcolor="white", plot_bgcolor="#EAEAF2",
              font=dict(family="DejaVu Sans", color=TXT, size=11))
for i, (x0, x1, y0, y1) in enumerate(boxes):
    k = i + 1
    xa = "xaxis" if k == 1 else f"xaxis{k}"
    ya = "yaxis" if k == 1 else f"yaxis{k}"
    layout[xa] = dict(domain=[x0 / W, x1 / W], range=xr[i], anchor=ax_names(k)[1], tickvals=xt[i][0], ticktext=xt[i][1],
                      showgrid=True, gridcolor="white", gridwidth=1.2, zeroline=False, showline=False, ticks="",
                      tickfont=dict(size=11, color=TXT))
    layout[ya] = dict(domain=[1 - y1 / H, 1 - y0 / H], range=yr[i], anchor=ax_names(k)[0], tickvals=yt[i][0], ticktext=yt[i][1],
                      showticklabels=show_y[i], showgrid=True, gridcolor="white", gridwidth=1.2, zeroline=False,
                      showline=False, ticks="", tickfont=dict(size=11, color=TXT))
fig.update_layout(**layout)

# ---------------- annotations ----------------
ann = []
title_y = [11.5, 11.5, 213.5, 213.5, 15, 15, 215.5, 215.5]
for i, (x0, x1, y0, y1) in enumerate(boxes):
    ann.append(dict(text=titles[i], x=(x0 + x1) / 2 / W, y=1 - title_y[i] / H, xref="paper", yref="paper",
                    showarrow=False, xanchor="center", yanchor="middle", font=dict(size=13, color=TXT)))
for (x0, x1, y0, y1) in [boxes[2], boxes[3], boxes[6], boxes[7]]:
    ann.append(dict(text="Timestep", x=(x0 + x1) / 2 / W, y=1 - 412 / H, xref="paper", yref="paper",
                    showarrow=False, xanchor="center", yanchor="middle", font=dict(size=11.5, color=TXT)))
for yc in [103, 306]:
    ann.append(dict(text="Normalized Return", x=13 / W, y=1 - yc / H, xref="paper", yref="paper", textangle=-90,
                    showarrow=False, xanchor="center", yanchor="middle", font=dict(size=11, color=TXT)))
for y1c, y2c in [(114, 103), (313, 305)]:
    ann.append(dict(text="Normalized Q-value Diff.", x=452 / W, y=1 - y1c / H, xref="paper", yref="paper", textangle=-90,
                    showarrow=False, xanchor="center", yanchor="middle", font=dict(size=10.3, color=TXT)))
    ann.append(dict(text="to the max return", x=464 / W, y=1 - y2c / H, xref="paper", yref="paper", textangle=-90,
                    showarrow=False, xanchor="center", yanchor="middle", font=dict(size=10.3, color=TXT)))
ann.append(dict(text="(a)", x=220 / W, y=1 - 443 / H, xref="paper", yref="paper", showarrow=False,
                xanchor="center", yanchor="middle", font=dict(family="Liberation Serif", size=20, color="black")))
ann.append(dict(text="(b)", x=748 / W, y=1 - 443 / H, xref="paper", yref="paper", showarrow=False,
                xanchor="center", yanchor="middle", font=dict(family="Liberation Serif", size=20, color="black")))

fig.update_layout(annotations=ann,
                  legend=dict(x=884 / W, y=1 - 123 / H, xanchor="left", yanchor="top", bgcolor="rgba(0,0,0,0)",
                              font=dict(size=14, color=TXT, family="DejaVu Sans"), itemwidth=30, tracegroupgap=0,
                              itemclick=False, itemdoubleclick=False))

fig.write_html("out.html")
